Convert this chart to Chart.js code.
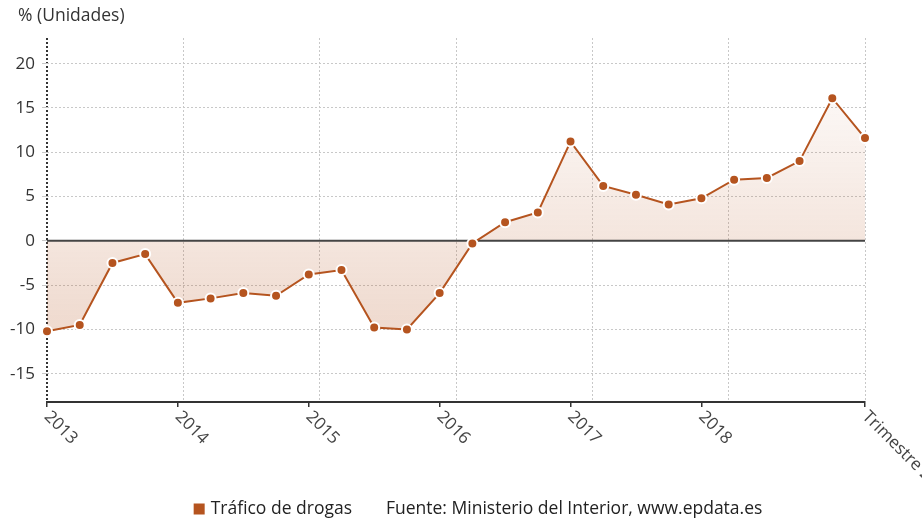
<!DOCTYPE html>
<html>
<head>
<meta charset="utf-8">
<script src="https://cdn.jsdelivr.net/npm/chart.js@4.4.1/dist/chart.umd.min.js"></script>
<style>
  html, body { margin: 0; padding: 0; background: #fff; }
</style>
</head>
<body>
<canvas id="chart" width="922" height="519"></canvas>
<script>
// Datos: variación trimestral (%) de infracciones por tráfico de drogas
const quarters = [
    '2013 T1', '2013 T2', '2013 T3', '2013 T4',
    '2014 T1', '2014 T2', '2014 T3', '2014 T4',
    '2015 T1', '2015 T2', '2015 T3', '2015 T4',
    '2016 T1', '2016 T2', '2016 T3', '2016 T4',
    '2017 T1', '2017 T2', '2017 T3', '2017 T4',
    '2018 T1', '2018 T2', '2018 T3', '2018 T4',
    '2019 T1', '2019 T2'
];
const tickLabels = [
    '2013', '', '', '',
    '2014', '', '', '',
    '2015', '', '', '',
    '2016', '', '', '',
    '2017', '', '', '',
    '2018', '', '', '',
    '', 'Trimestre 2 2019'
];
const values = [
    -10.2, -9.5, -2.5, -1.5,
    -7.0, -6.5, -5.9, -6.2,
    -3.8, -3.3, -9.8, -10.0,
    -5.9, -0.3, 2.1, 3.2,
    11.2, 6.2, 5.2, 4.1,
    4.8, 6.9, 7.1, 9.0,
    16.1, 11.6
];
const yMin = -18.2;
const yMax = 22.9;
const seriesName = 'Tráfico de drogas';
const sourceText = 'Fuente: Ministerio del Interior, www.epdata.es';
const unitLabel = '% (Unidades)';

const lineColor = '#b5541f';

Chart.defaults.font.family = "'Open Sans', sans-serif";
Chart.defaults.color = '#333';

// Zero line, drawn over the fill but under the line
const zeroLine = {
    id: 'zeroLine',
    beforeDatasetsDraw(chart) {
        const y = chart.scales.y.getPixelForValue(0);
        const a = chart.chartArea;
        const ctx = chart.ctx;
        ctx.save();
        ctx.strokeStyle = '#444';
        ctx.lineWidth = 2;
        ctx.beginPath();
        ctx.moveTo(a.left, y);
        ctx.lineTo(a.right, y);
        ctx.stroke();
        ctx.restore();
    }
};

// Unit label, rotated x labels and the legend line at the bottom
const textLayer = {
    id: 'textLayer',
    afterDraw(chart) {
        const s = chart.scales.x;
        const ctx = chart.ctx;
        ctx.save();
        ctx.font = "17.5px 'Open Sans', sans-serif";
        ctx.fillStyle = '#333';
        ctx.textAlign = 'left';
        ctx.textBaseline = 'middle';
        ctx.fillText(unitLabel, 18, 16);

        // x labels: start at the tick and go down-right
        ctx.font = "17px 'Open Sans', sans-serif";
        ctx.fillStyle = '#444';
        tickLabels.forEach((t, i) => {
            if (!t) return;
            const x = s.getPixelForValue(i);
            ctx.save();
            ctx.translate(x, s.top + 12);
            ctx.rotate(Math.PI / 4);
            ctx.fillText(t, 0, 0);
            ctx.restore();
        });

        // legend + source
        ctx.font = "17.5px 'Open Sans', sans-serif";
        const w1 = ctx.measureText(seriesName).width;
        const w2 = ctx.measureText(sourceText).width;
        const total = 11 + 6 + w1 + 34 + w2;
        let x0 = 478 - total / 2;
        const y0 = 509;
        ctx.fillStyle = lineColor;
        ctx.fillRect(x0, y0 - 5.5, 11, 11);
        ctx.fillStyle = '#222';
        ctx.fillText(seriesName, x0 + 17, y0);
        ctx.fillText(sourceText, x0 + 17 + w1 + 34, y0);
        ctx.restore();
    }
};

new Chart(document.getElementById('chart'), {
    type: 'line',
    data: {
        labels: quarters,
        datasets: [{
            label: seriesName,
            data: values,
            borderColor: lineColor,
            borderWidth: 2,
            tension: 0,
            fill: 'origin',
            backgroundColor: function(c) {
                const a = c.chart.chartArea;
                if (!a) return 'rgba(181, 84, 31, 0.12)';
                const g = c.chart.ctx.createLinearGradient(0, a.top, 0, a.bottom);
                g.addColorStop(0, 'rgba(181, 84, 31, 0)');
                g.addColorStop(1, 'rgba(181, 84, 31, 0.27)');
                return g;
            },
            pointRadius: 5,
            pointBackgroundColor: lineColor,
            pointBorderColor: '#ffffff',
            pointBorderWidth: 2,
            pointHoverRadius: 6
        }]
    },
    options: {
        responsive: false,
        animation: false,
        layout: {
            padding: { left: 0, right: 57, top: 38, bottom: 0 }
        },
        plugins: {
            filler: { drawTime: 'beforeDatasetsDraw' },
            legend: { display: false }
        },
        scales: {
            x: {
                type: 'category',
                grid: {
                    drawOnChartArea: false,
                    drawTicks: true,
                    tickLength: 5,
                    lineWidth: 1.5,
                    color: c => tickLabels[c.index] ? '#333' : 'rgba(0,0,0,0)'
                },
                border: { color: '#333', width: 2 },
                ticks: { display: false, autoSkip: false },
                afterFit: s => { s.height = 117; }
            },
            xg: {
                type: 'linear',
                position: 'bottom',
                min: 0,
                max: 6,
                grid: {
                    drawTicks: false,
                    color: c => c.tick.value === 0 ? '#333' : '#c8c8c8',
                    lineWidth: c => c.tick.value === 0 ? 2 : 1
                },
                border: { display: false, dash: [2, 2] },
                ticks: { display: false, stepSize: 1 },
                afterFit: s => { s.height = 0; }
            },
            y: {
                min: yMin,
                max: yMax,
                grid: { color: '#c8c8c8', tickLength: 5 },
                border: { display: false, dash: [2, 2] },
                ticks: {
                    stepSize: 5,
                    includeBounds: false,
                    color: '#333',
                    font: { size: 17 },
                    padding: 7
                },
                afterFit: s => { s.width = 47; }
            }
        }
    },
    plugins: [zeroLine, textLayer]
});
</script>
</body>
</html>
